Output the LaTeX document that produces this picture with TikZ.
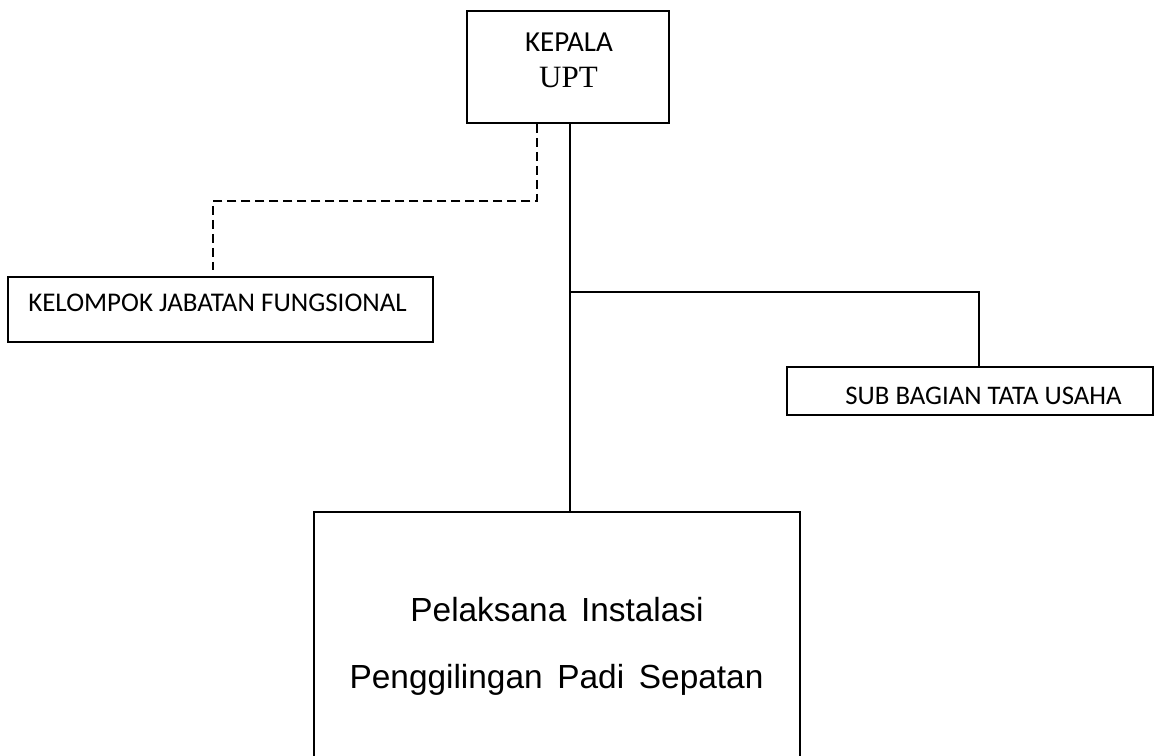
\documentclass[tikz,border=0pt]{standalone}
\usepackage{fontspec}
\setmainfont{Liberation Serif}
\newfontfamily\calib{Carlito}
\newfontfamily\arialf{Liberation Sans}
\begin{document}
\begin{tikzpicture}[x=1pt,y=-1pt,
  box/.style={draw, line width=1.5pt, inner sep=0pt},
  conn/.style={line width=2pt},
  dconn/.style={line width=1.8pt, dash pattern=on 9pt off 5pt},
  lbl/.style={inner sep=0pt, anchor=center}]
\useasboundingbox (0,0) rectangle (1156,755);
\fill[white] (0,0) rectangle (1156,755);
% boxes
\node[box, minimum width=202, minimum height=112] (kepala) at (568,67) {};
\node[lbl, font=\calib\fontsize{29}{32}\selectfont] (kepalaT) at (569,42) {KEPALA};
\node[lbl, font=\fontsize{31}{34}\selectfont] (uptT) at (568.5,77) {UPT};

\node[box, minimum width=425, minimum height=65] (kjf) at (220.5,309.5) {};
\node[lbl, font=\calib\fontsize{27}{30}\selectfont] (kjfT) at (217.5,303) {KELOMPOK JABATAN FUNGSIONAL};

\node[box, minimum width=366, minimum height=48] (sub) at (970,391) {};
\node[lbl, font=\calib\fontsize{26.8}{30}\selectfont] (subT) at (983.5,396) {SUB BAGIAN TATA USAHA};

\node[box, minimum width=486, minimum height=253] (pel) at (557,638.5) {};
\node[lbl, font=\arialf\fontsize{33.4}{36}\selectfont] (pelT1) at (557,610) {Pelaksana\hspace{0.44em}Instalasi};
\node[lbl, font=\arialf\fontsize{33.4}{36}\selectfont] (pelT2) at (556.5,680) {Penggilingan\hspace{0.44em}Padi\hspace{0.44em}Sepatan};

% connectors
\coordinate (ks) at ([xshift=2]kepala.south);
\coordinate (jn) at (570,292);
\draw[conn] (ks) -- (ks |- pel.north);
\draw[conn] (jn) -| ([xshift=9]sub.north);

\coordinate (ds) at ([xshift=-31]kepala.south);
\coordinate (dbend) at (537,201);
\coordinate (dend) at (213,270);
\draw[dconn] (ds) -- (dbend) -- (dbend -| dend) -- (dend);
\end{tikzpicture}
\end{document}
